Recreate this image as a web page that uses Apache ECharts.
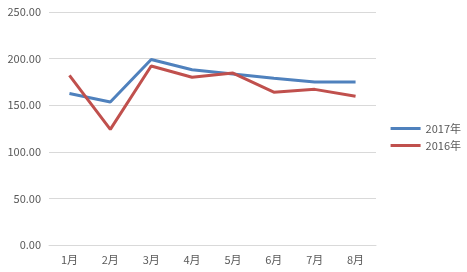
<!DOCTYPE html>
<html><head><meta charset="utf-8">
<script src="https://cdn.jsdelivr.net/npm/echarts@6/dist/echarts.min.js"></script>
<style>html,body{margin:0;padding:0;background:#fff}#c{width:467px;height:272px}</style>
</head><body><div id="c"></div>
<script>
const categories = ['1月','2月','3月','4月','5月','6月','7月','8月'];
const s2017 = [162.5, 153.5, 199, 188, 183.5, 179, 175, 175];
const s2016 = [182, 124, 192, 180, 184.5, 164, 167, 159.5];
const seriesNames = ['2017年','2016年'];
const font = '"Noto Sans CJK SC", "Microsoft YaHei", sans-serif';
const chart = echarts.init(document.getElementById('c'), null, {renderer:'canvas'});
chart.setOption({
  animation:false,
  grid:{left:49,right:91,top:12,bottom:27},
  legend:{
    orient:'vertical', right:1, top:118,
    itemWidth:30, itemHeight:3, itemGap:6,
    icon:'rect',
    textStyle:{color:'#595959',fontSize:11,fontFamily:font},
    data:seriesNames
  },
  xAxis:{
    type:'category', data:categories, boundaryGap:true,
    axisLine:{show:true,lineStyle:{color:'#d9d9d9'}},
    axisTick:{show:false},
    axisLabel:{color:'#595959',fontSize:11,fontFamily:font,margin:9}
  },
  yAxis:{
    type:'value', min:0, max:250, interval:50,
    axisLine:{show:false}, axisTick:{show:false},
    splitLine:{lineStyle:{color:'#d9d9d9'}},
    axisLabel:{color:'#595959',fontSize:11,fontFamily:font,margin:8,
      formatter:v=>v.toFixed(2)}
  },
  series:[
    {name:seriesNames[0],type:'line',data:s2017,symbol:'none',
     lineStyle:{color:'#4F81BD',width:3},itemStyle:{color:'#4F81BD'}},
    {name:seriesNames[1],type:'line',data:s2016,symbol:'none',
     lineStyle:{color:'#C0504D',width:3},itemStyle:{color:'#C0504D'}}
  ]
});
</script></body></html>
